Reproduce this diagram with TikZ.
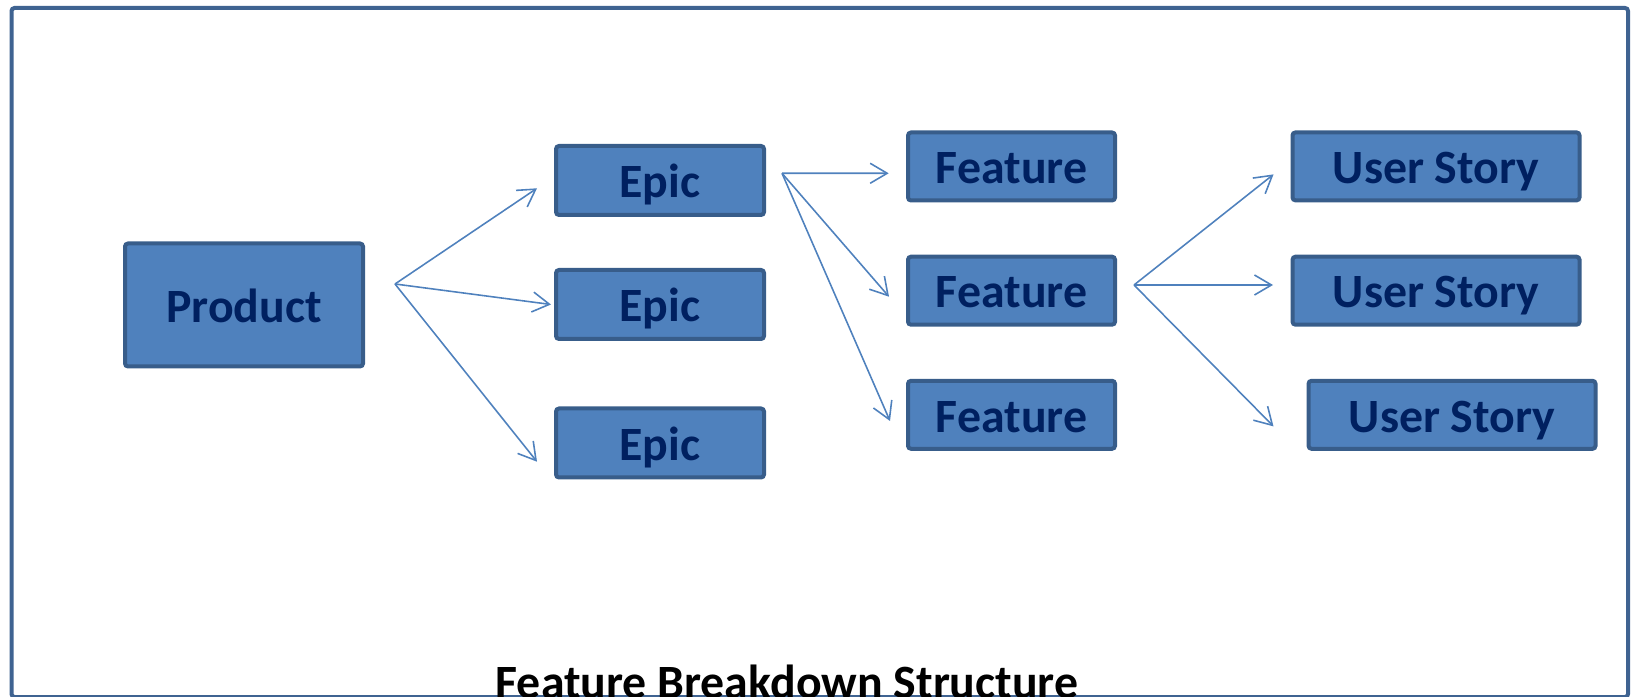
\documentclass[tikz,border=0pt]{standalone}
\usepackage{fontspec}
\setmainfont{Carlito}
\usetikzlibrary{arrows.meta}

\definecolor{boxfill}{HTML}{4F81BD}
\definecolor{boxline}{HTML}{385D8A}
\definecolor{boxtext}{HTML}{002060}
\definecolor{framecol}{HTML}{3F6391}

\begin{document}
\begin{tikzpicture}[
        blockbox/.style={draw=boxline, fill=boxfill, line width=0.4mm, rounded corners=0.3mm, inner sep=0pt,
            minimum height=0.68cm, text height=12.3pt, text depth=2.5pt, text=boxtext,
            font=\bfseries\fontsize{13.6}{16}\selectfont},
        fanline/.style={draw=boxfill, line width=0.45pt, -{Straight Barb[length=1.7mm, width=2mm]}}
    ]
        \useasboundingbox (0,0) rectangle (16.32,6.96);
        \draw[framecol, line width=0.4mm, rounded corners=0.3mm] (0.115,-0.01) rectangle (16.28,6.88);

        \node[blockbox, minimum width=2.38cm, minimum height=1.23cm] (prod) at (2.44,3.91) {Product};

        \node[blockbox, minimum width=2.08cm, minimum height=0.69cm] (epicA) at (6.60,5.155) {Epic};
        \node[blockbox, minimum width=2.08cm, minimum height=0.69cm] (epicB) at (6.60,3.915) {Epic};
        \node[blockbox, minimum width=2.08cm, minimum height=0.69cm] (epicC) at (6.60,2.53) {Epic};

        \node[blockbox, minimum width=2.07cm] (featA) at (10.115,5.295) {Feature};
        \node[blockbox, minimum width=2.07cm] (featB) at (10.115,4.053) {Feature};
        \node[blockbox, minimum width=2.07cm] (featC) at (10.115,2.812) {Feature};

        \node[blockbox, minimum width=2.87cm] (storyA) at (14.36,5.296) {User Story};
        \node[blockbox, minimum width=2.87cm] (storyB) at (14.36,4.053) {User Story};
        \node[blockbox, minimum width=2.87cm] (storyC) at (14.52,2.812) {User Story};

        \coordinate (prodfan) at ([xshift=3mm, yshift=2.1mm]prod.east);
        \coordinate (epicfan) at ([xshift=1.6mm, yshift=0.72mm]epicA.east);
        \coordinate (featfan) at ([xshift=1.7mm, yshift=0.57mm]featB.east);

        \draw[fanline] (prodfan) -- ([xshift=-1.7mm, yshift=-0.78mm]epicA.west);
        \draw[fanline] (prodfan) -- ([xshift=-0.3mm]epicB.west);
        \draw[fanline] (prodfan) -- ([xshift=-1.7mm, yshift=-1.87mm]epicC.west);

        \draw[fanline] (epicfan) -- ([xshift=-1.73mm, yshift=-0.68mm]featA.west);
        \draw[fanline] (epicfan) -- ([xshift=-1.7mm, yshift=-0.6mm]featB.west);
        \draw[fanline] (epicfan) -- ([xshift=-1.6mm, yshift=-0.62mm]featC.west);

        \draw[fanline] (featfan) -- ([xshift=-1.7mm, yshift=-0.8mm]storyA.west);
        \draw[fanline] (featfan) -- ([xshift=-1.75mm, yshift=0.57mm]storyB.west);
        \draw[fanline] (featfan) -- ([xshift=-3.3mm, yshift=-1.16mm]storyC.west);

        \node[anchor=base, font=\bfseries\fontsize{13.6}{16}\selectfont] (title) at (7.87,-0.02) {Feature Breakdown Structure};
    \end{tikzpicture}
\end{document}
